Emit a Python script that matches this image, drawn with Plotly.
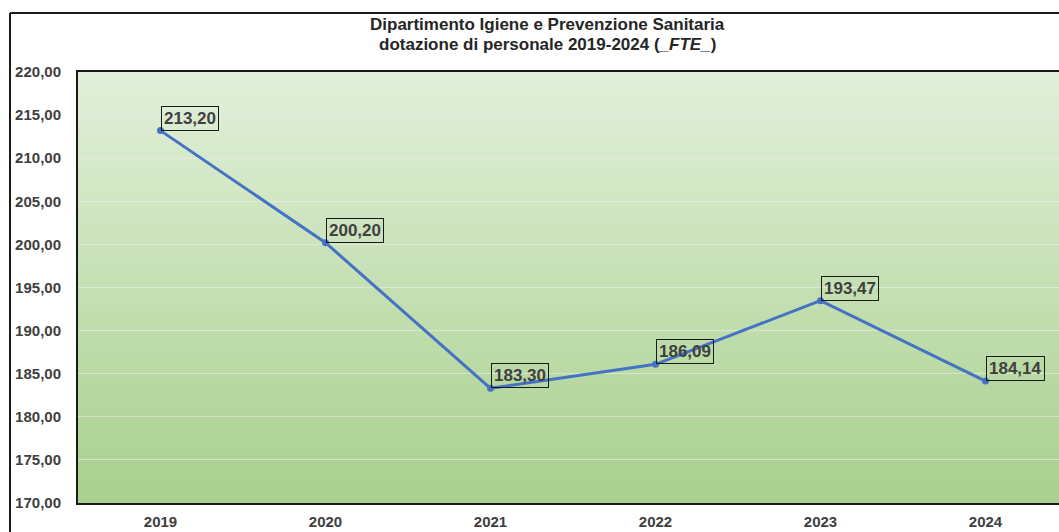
import plotly.graph_objects as go

# ── Data ─────────────────────────────────────────────────────────────────────
YEARS = ["2019", "2020", "2021", "2022", "2023", "2024"]
FTE = [213.20, 200.20, 183.30, 186.09, 193.47, 184.14]
Y_TICKS = [170, 175, 180, 185, 190, 195, 200, 205, 210, 215, 220]
TITLE_LINES = [
    "Dipartimento Igiene e Prevenzione Sanitaria",
    "dotazione di personale 2019-2024 (<i>_FTE_</i>)",
]

# ── Style ────────────────────────────────────────────────────────────────────
LINE_BLUE = "#4472c4"
TEXT_DARK = "#404040"
GRID = "rgba(235,235,235,0.6)"
TOP_RGB = (226, 239, 218)
BOT_RGB = (169, 208, 142)
FONT = "Liberation Sans, Arial, sans-serif"

W, H = 1059, 532
M_L, M_R, M_T, M_B = 78, 0, 72, 29
PLOT_W = W - M_L - M_R
PLOT_H = H - M_T - M_B
CAT_PX = 165.0


def px_x(px):
    return (px - M_L) / PLOT_W


def px_y(py):
    return (H - M_B - py) / PLOT_H


fig = go.Figure(go.Scatter(
    x=YEARS, y=FTE,
    mode="lines+markers",
    line=dict(color=LINE_BLUE, width=3),
    marker=dict(color=LINE_BLUE, size=7),
    hovertemplate="%{x}: %{y:,.2f}<extra></extra>",
))

# gradient plot background built from overlapping thin strips
shapes = []
n = 60
step = 1 / n
for i in range(n):
    t = i / (n - 1)
    r, g, b = (round(TOP_RGB[k] + (BOT_RGB[k] - TOP_RGB[k]) * t) for k in range(3))
    shapes.append(dict(
        type="rect", xref="paper", yref="paper", layer="below",
        x0=0, x1=1, y0=max(0, 1 - (i + 1) * step - step * 0.6), y1=1 - i * step,
        fillcolor=f"rgb({r},{g},{b})", line=dict(width=0),
    ))

# outer chart border (top + left)
shapes.append(dict(type="line", xref="paper", yref="paper",
                   x0=px_x(10), x1=px_x(W + 5), y0=px_y(13), y1=px_y(13),
                   line=dict(color="#1a1a1a", width=2)))
shapes.append(dict(type="line", xref="paper", yref="paper",
                   x0=px_x(10), x1=px_x(10), y0=px_y(13), y1=px_y(H + 5),
                   line=dict(color="#1a1a1a", width=2)))

annotations = []
for i, v in enumerate(FTE):
    annotations.append(dict(
        x=i, y=v, xref="x", yref="y",
        text=f"{v:.2f}".replace(".", ","),
        showarrow=False, xanchor="left", yanchor="bottom",
        xshift=0, yshift=0,
        font=dict(family=FONT, size=17, color=TEXT_DARK, weight="bold"),
        bordercolor="#1a1a1a", borderwidth=1, borderpad=2,
    ))

for line, cy in zip(TITLE_LINES, (25, 44)):
    annotations.append(dict(
        x=px_x(547), y=px_y(cy), xref="paper", yref="paper",
        xanchor="center", yanchor="middle", showarrow=False,
        text=line,
        font=dict(family=FONT, size=17, color="#262626", weight="bold"),
    ))

fig.update_layout(
    width=W, height=H,
    margin=dict(l=M_L, r=M_R, t=M_T, b=M_B),
    paper_bgcolor="white",
    plot_bgcolor="rgba(0,0,0,0)",
    separators=",.",
    showlegend=False,
    shapes=shapes,
    annotations=annotations,
    xaxis=dict(
        type="category",
        range=[-0.5, -0.5 + PLOT_W / CAT_PX],
        showgrid=False,
        showline=True, mirror=True, linecolor="#1a1a1a", linewidth=2,
        ticks="", ticklabelstandoff=4,
        tickfont=dict(family=FONT, size=15, color=TEXT_DARK, weight="bold"),
        fixedrange=True,
    ),
    yaxis=dict(
        range=[170, 220],
        tickvals=Y_TICKS,
        tickformat=".2f",
        showgrid=True, gridcolor=GRID, gridwidth=1,
        zeroline=False,
        showline=True, linecolor="#1a1a1a", linewidth=2,
        ticks="", ticklabelstandoff=12,
        tickfont=dict(family=FONT, size=15, color=TEXT_DARK, weight="bold"),
        fixedrange=True,
    ),
)

fig.write_html(
    "out.html",
    config={"displayModeBar": False},
    post_script="document.body.style.margin='0';document.body.style.overflow='hidden';",
)
